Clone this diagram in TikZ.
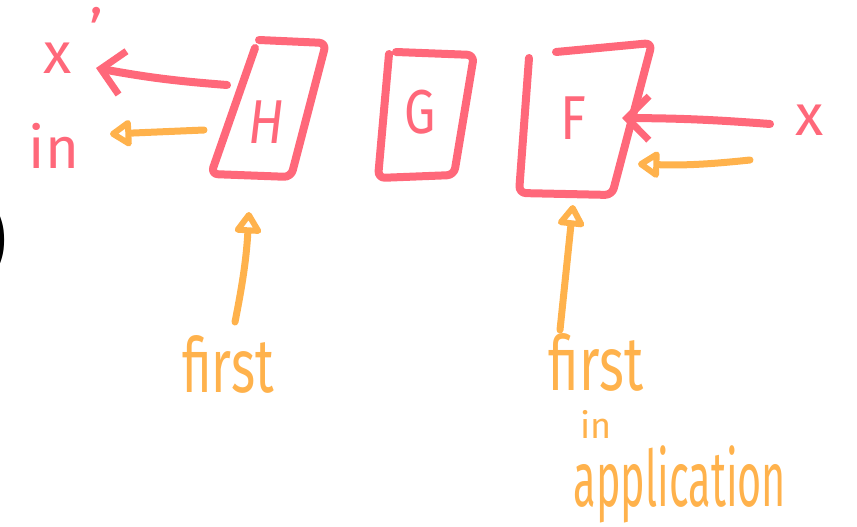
\documentclass[tikz,border=0pt]{standalone}
\usepackage{fontspec}
\setmainfont{Fira Sans}
\usetikzlibrary{arrows.meta}
\definecolor{pen}{RGB}{255,104,122}
\definecolor{hl}{RGB}{255,178,76}
\begin{document}
\begin{tikzpicture}[x=1pt,y=-1pt,
  redline/.style={draw=pen,line width=8pt,line cap=round,line join=round,rounded corners=7pt},
  redarrow/.style={pen,line width=8pt,line cap=round,-{Straight Barb[length=22pt,width=44pt,line width=7pt]}},
  orarrow/.style={hl,line width=7pt,line cap=round,-{Triangle[open,round,length=24pt,width=30pt,line width=6pt]}},
  redtxt/.style={text=pen,inner sep=0pt,font=\fontsize{58}{58}\selectfont},
  ortxt/.style={text=hl,inner sep=0pt,font=\fontsize{76}{76}\selectfont},
  boxlet/.style={text=pen,inner sep=0pt,font=\fontsize{62}{62}\selectfont}]
\useasboundingbox (0,0) rectangle (857,527);
% black parenthesis cut at left edge
\node[anchor=west,inner sep=0pt,font=\fontsize{92}{92}\selectfont] (paren) at (-22,240) {)};
% boxes
\draw[redline] (259,40) -- (326,43) -- (291,177) -- (211,174) -- (255,48);
\draw[redline] (396,52) -- (474,55) -- (454,175) -- (378,178) -- (389,54);
\draw[redline] (556,52) -- (652,43) -- (612,195) -- (519,193) -- (529,58);
\node[boxlet,xscale=0.85] (H) at (266,122) {\itshape H};
\node[boxlet,xscale=0.8] (G) at (420,112) {G};
\node[boxlet,xscale=0.85] (F) at (573,118) {F};
% labels
\node[redtxt] (xp) at (58,58) {x};
\node[text=pen,inner sep=0pt,font=\fontsize{60}{60}\selectfont] (prime) at (96,30) {'};
\node[redtxt] (inl) at (54,146) {in};
\node[redtxt] (xr) at (810,120) {x};
\node[ortxt,xscale=0.68] (first1) at (228,364) {first};
\node[ortxt,xscale=0.7] (first2) at (596,362) {first};
\node[text=hl,inner sep=0pt,font=\fontsize{36}{36}\selectfont] (in2) at (596,424) {in};
\node[ortxt,font=\fontsize{78}{78}\selectfont,xscale=0.53,anchor=base] (appl) at (680,506) {application};
% connector ends
\coordinate (hR1) at (227,85);
\coordinate (hL1) at (96,68);
\coordinate (hR2) at (204,130);
\coordinate (hL2) at (110,134);
\coordinate (fR1) at (770,124);
\coordinate (fL1) at (622,118);
\coordinate (fR2) at (750,160);
\coordinate (fL2) at (638,164);
\coordinate (hB) at (235,322);
\coordinate (hT) at (249,212);
\coordinate (fB) at (560,330);
\coordinate (fT) at (573,205);
\draw[redarrow] (hR1) to[bend left=3] (hL1);
\draw[orarrow] (hR2) -- (hL2);
\draw[redarrow] (fR1) to[bend right=2] (fL1);
\draw[orarrow] (fR2) to[bend left=4] (fL2);
\draw[orarrow] (hB) to[bend right=4] (hT);
\draw[orarrow] (fB) -- (fT);
\end{tikzpicture}
\end{document}
